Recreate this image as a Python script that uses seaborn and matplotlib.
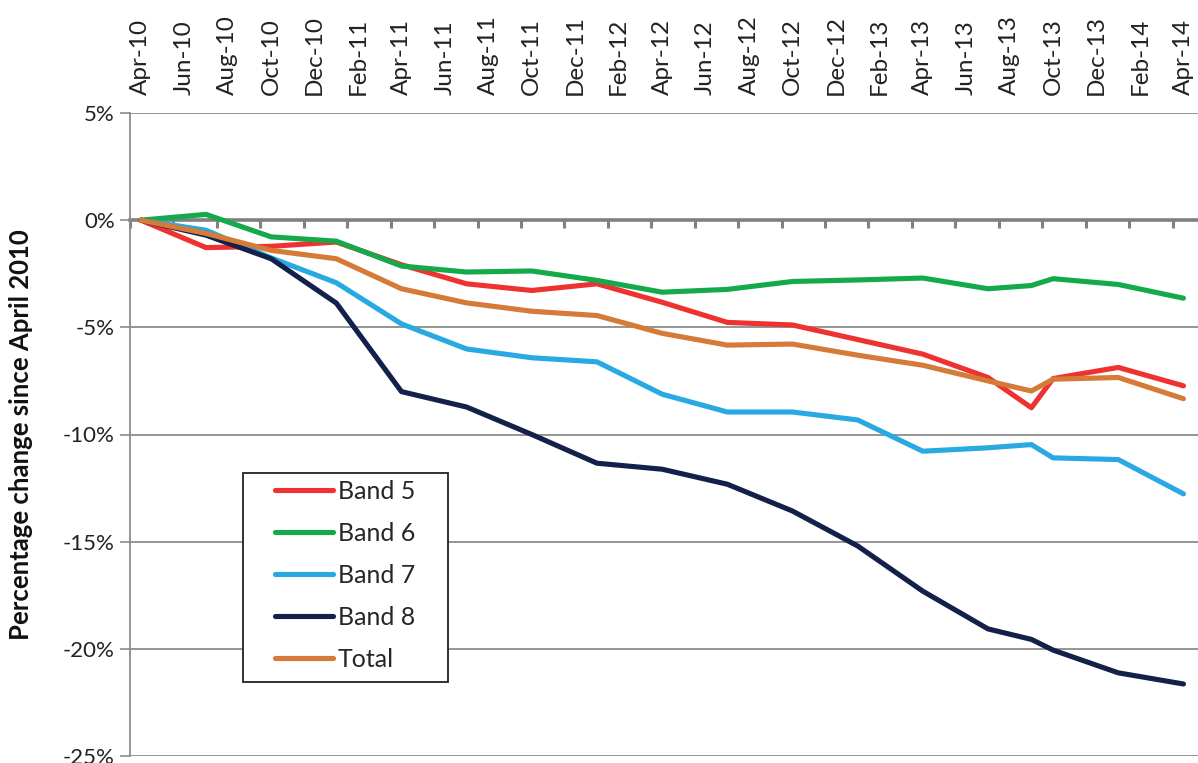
import numpy as np
import pandas as pd
import matplotlib
matplotlib.use("Agg")
import matplotlib.pyplot as plt
from matplotlib.patches import Rectangle
import seaborn as sns

# ---- data -------------------------------------------------------------
dates = ["2010-04", "2010-07", "2010-10", "2011-01", "2011-04", "2011-07",
         "2011-10", "2012-01", "2012-04", "2012-07", "2012-10", "2013-01",
         "2013-04", "2013-07", "2013-09", "2013-10", "2014-01", "2014-04"]
band5 = [0, -1.28, -1.22, -1.02, -2.08, -2.97, -3.28, -2.97, -3.83, -4.77,
         -4.89, -5.57, -6.25, -7.34, -8.75, -7.39, -6.87, -7.73]
band6 = [0, 0.27, -0.78, -0.98, -2.14, -2.42, -2.37, -2.81, -3.36, -3.23,
         -2.86, -2.79, -2.70, -3.20, -3.05, -2.73, -3.00, -3.64]
band7 = [0, -0.47, -1.76, -2.92, -4.84, -6.01, -6.42, -6.61, -8.12, -8.95,
         -8.95, -9.32, -10.78, -10.62, -10.47, -11.09, -11.17, -12.77]
band8 = [0, -0.70, -1.80, -3.87, -8.00, -8.72, -10.0, -11.34, -11.62, -12.32,
         -13.57, -15.2, -17.31, -19.07, -19.56, -20.06, -21.12, -21.64]
total = [0, -0.62, -1.41, -1.80, -3.20, -3.86, -4.25, -4.45, -5.28, -5.83,
         -5.78, -6.30, -6.77, -7.50, -7.97, -7.42, -7.34, -8.33]
series_names = ["Band 5", "Band 6", "Band 7", "Band 8", "Total"]
tick_labels = ["Apr-10", "Jun-10", "Aug-10", "Oct-10", "Dec-10", "Feb-11",
               "Apr-11", "Jun-11", "Aug-11", "Oct-11", "Dec-11", "Feb-12",
               "Apr-12", "Jun-12", "Aug-12", "Oct-12", "Dec-12", "Feb-13",
               "Apr-13", "Jun-13", "Aug-13", "Oct-13", "Dec-13", "Feb-14",
               "Apr-14"]
colors = {"Band 5": "#EE3131", "Band 6": "#14A94B", "Band 7": "#29A9E1",
          "Band 8": "#13204A", "Total": "#D57A37"}

# ---- build long table --------------------------------------------------
dt = pd.to_datetime(dates)
start = dt[0]
month_idx = (dt.year - start.year) * 12 + (dt.month - start.month)
frames = []
for name, vals in zip(series_names, [band5, band6, band7, band8, total]):
    frames.append(pd.DataFrame({"month": month_idx, "value": vals, "series": name}))
df = pd.concat(frames, ignore_index=True)

# ---- plot ----------------------------------------------------------------
sns.set_style("white")
plt.rcParams["font.family"] = ["Lato", "DejaVu Sans"]

W, H = 1198, 763
fig = plt.figure(figsize=(W / 100, H / 100), dpi=100)
ax_left, ax_top, ax_bottom = 130, 113, 756
ax = fig.add_axes([ax_left / W, 1 - ax_bottom / H, (W - ax_left) / W,
                   (ax_bottom - ax_top) / H])
axw, axh = W - ax_left, ax_bottom - ax_top

sns.lineplot(data=df, x="month", y="value", hue="series", hue_order=series_names,
             palette=colors, linewidth=3.7, errorbar=None, ax=ax, legend=True)
for ln in ax.get_lines():
    ln.set_solid_capstyle("round")
    ln.set_solid_joinstyle("round")

ax.set_xlim(-0.5, 48.67)
ax.set_ylim(-25, 5)

# y axis
yt = np.arange(-25, 6, 5)
ax.set_yticks(yt)
ax.set_yticklabels([f"{v}%" for v in yt])
ax.yaxis.grid(True, color="#8C8C8C", linewidth=1.3)
ax.xaxis.grid(False)
ax.tick_params(axis="y", which="major", left=True, length=7, width=1.2,
               color="#8C8C8C", labelsize=16, labelcolor="#222222", pad=4)
ax.set_ylabel("Percentage change since April 2010", fontsize=18.5,
              fontweight="bold", color="#111111")
ax.yaxis.set_label_coords((33 - ax_left) / axw, 0.5)

# x axis: labels at top, tick marks on zero line
ax.set_xticks(np.arange(0, 49, 2))
ax.set_xticklabels(tick_labels)
ax.set_xticks(np.arange(-0.5, 49, 2), minor=True)
ax.tick_params(axis="x", which="major", bottom=False, top=False,
               labelbottom=False, labeltop=True, length=0, pad=13,
               labelsize=17.5, labelcolor="#222222", labelrotation=90)
ax.tick_params(axis="x", which="minor", bottom=True, top=False,
               length=6, width=2.2, color="#808080", direction="out")
ax.set_xlabel("")

ax.spines["top"].set_visible(False)
ax.spines["right"].set_visible(False)
ax.spines["left"].set_color("#8C8C8C")
ax.spines["left"].set_linewidth(1.3)
ax.spines["bottom"].set_position(("data", 0))
ax.spines["bottom"].set_color("#808080")
ax.spines["bottom"].set_linewidth(2.6)
ax.spines["bottom"].set_zorder(1.5)

# legend: box drawn as a rectangle, entries inside without frame
bx0, by0, bx1, by1 = 243, 473, 448, 682
box = Rectangle(((bx0 - ax_left) / axw, (ax_bottom - by1) / axh),
                (bx1 - bx0) / axw, (by1 - by0) / axh, transform=ax.transAxes,
                facecolor="white", edgecolor="#222222", linewidth=1.3, zorder=4)
ax.add_patch(box)
handles, labels = ax.get_legend_handles_labels()
leg = ax.legend(handles, labels, loc="upper left",
                bbox_to_anchor=((275 - ax_left) / axw, (ax_bottom - 480) / axh),
                borderaxespad=0, borderpad=0, frameon=False,
                fontsize=18, handlelength=2.3, handletextpad=0.2,
                labelspacing=0.76, title=None)
leg.set_zorder(5)
for h in leg.get_lines():
    h.set_linewidth(3.7)
    h.set_solid_capstyle("round")

fig.savefig("out.png", dpi=100)
